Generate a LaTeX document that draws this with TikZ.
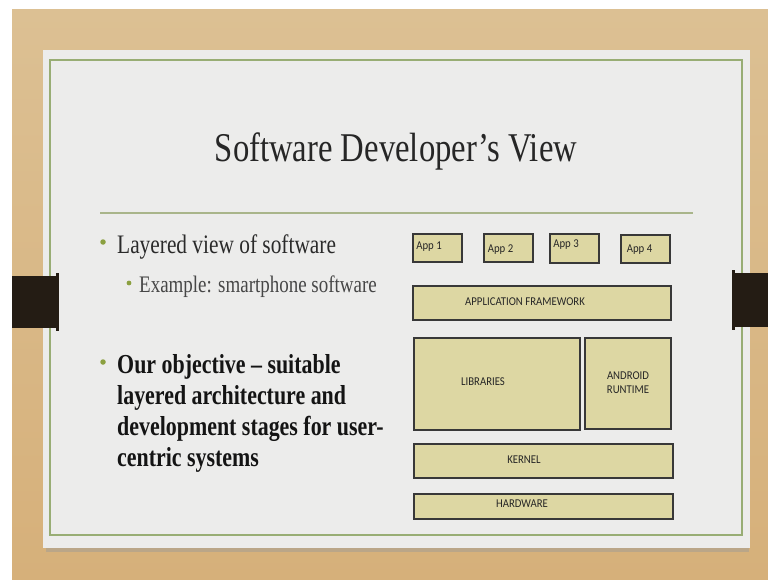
\documentclass[tikz,border=0pt]{standalone}
\usepackage{fontspec}
\setmainfont{Liberation Serif}
\newfontfamily\slidefont[FakeStretch=0.8]{Liberation Serif}
\newfontfamily\boxfont[FakeStretch=0.9]{Carlito}
\definecolor{wood}{HTML}{D6B07A}
\definecolor{woodlight}{HTML}{DCC093}
\definecolor{card}{HTML}{ECECEB}
\definecolor{frameg}{HTML}{98AD74}
\definecolor{ruleg}{HTML}{A9B58A}
\definecolor{bulletg}{HTML}{8BA040}
\definecolor{tabc}{HTML}{241C14}
\definecolor{boxfill}{HTML}{DDD7A3}
\definecolor{boxline}{HTML}{383838}
\definecolor{boxtext}{HTML}{262626}
\definecolor{bodytext}{HTML}{2A2A2A}
\tikzset{
  layerbox/.style={draw=boxline, line width=1.8bp, fill=boxfill, rectangle, inner sep=0pt, anchor=north west},
  boxlabel/.style={font=\boxfont\fontsize{12}{14}\selectfont, text=boxtext, inner sep=0pt, align=center},
  applabel/.style={font=\boxfont\fontsize{12}{14}\selectfont, text=boxtext, inner sep=0pt},
  bodyline/.style={anchor=base west, inner sep=0pt, text=bodytext},
  boldline/.style={bodyline, text=black!92, font=\slidefont\bfseries\fontsize{27.5}{31}\selectfont},
  bul/.style={circle, fill=bulletg, inner sep=0pt, minimum size=5.5bp},
  tab/.style={fill=tabc, draw=none}
}
\begin{document}
\begin{tikzpicture}[x=1bp,y=-1bp]
\useasboundingbox (0,0) rectangle (768,580);
% background
\fill[white] (0,0) rectangle (768,580);
\shade[top color=woodlight, bottom color=wood] (12,10) rectangle (768,580);
% card shadow and card
\fill[black!40, opacity=0.45] (46,540) rectangle (749,552);
\fill[card] (43,50) rectangle (750,548);
\draw[frameg, line width=1.2bp] (50,60) rectangle (742,535);
% tabs
\fill[tab] (12,276) rectangle (58,328);
\fill[tab] (56,273) rectangle (59,331);
\fill[tab] (733,273) rectangle (768,327);
\fill[tab] (732,270) rectangle (735,330);
% title
\node[anchor=base, inner sep=0pt, text=black!85, font=\slidefont\fontsize{41}{46}\selectfont] (title) at (396,162) {Software Developer’s View};
\coordinate (rl) at (100,213);
\coordinate (rr) at (693,213);
\draw[ruleg, line width=2bp] (rl) -- (rr);
% bullets text
\node[bul] (b1) at (103,242) {};
\node[bodyline, font=\slidefont\fontsize{26.8}{31}\selectfont] (t1) at (117,253) {Layered view of software};
\node[bul, minimum size=4.8bp] (b2) at (129,283) {};
\node[bodyline, text=black!72, font=\slidefont\fontsize{23.8}{28}\selectfont] (t2) at (139,292) {Example: smartphone software};
\node[bul] (b3) at (103,362) {};
\node[boldline] (o1) at (117,373) {Our objective – suitable};
\node[boldline] (o2) at (117,404) {layered architecture and};
\node[boldline] (o3) at (117,435) {development stages for user-};
\node[boldline] (o4) at (117,466) {centric systems};
% layer diagram
\node[layerbox, minimum width=49bp, minimum height=28bp] (app1) at (412,233) {};
\node[layerbox, minimum width=49bp, minimum height=28bp] (app2) at (483,233) {};
\node[layerbox, minimum width=49bp, minimum height=29bp] (app3) at (549,233) {};
\node[layerbox, minimum width=49bp, minimum height=28bp] (app4) at (620,234) {};
\node[applabel] (l1) at (429,247) {App 1};
\node[applabel] (l2) at (500.5,249.5) {App 2};
\node[applabel] (l3) at (566,245) {App 3};
\node[applabel] (l4) at (639.5,250) {App 4};
\node[layerbox, minimum width=258bp, minimum height=34bp] (fw) at (412,285) {};
\node[boxlabel] (lfw) at (525,302) {APPLICATION FRAMEWORK};
\node[layerbox, minimum width=166bp, minimum height=92bp] (lib) at (413,337) {};
\node[boxlabel] (llib) at (483,382) {LIBRARIES};
\node[layerbox, minimum width=86bp, minimum height=91bp] (rt) at (584,337) {};
\node[boxlabel] (lrt) at (628,383) {ANDROID\\[0bp]RUNTIME};
\node[layerbox, minimum width=259bp, minimum height=34bp] (kn) at (413,443) {};
\node[boxlabel] (lkn) at (524,460) {KERNEL};
\node[layerbox, minimum width=259bp, minimum height=25bp] (hw) at (413,493) {};
\node[boxlabel] (lhw) at (522,504) {HARDWARE};
\end{tikzpicture}
\end{document}
